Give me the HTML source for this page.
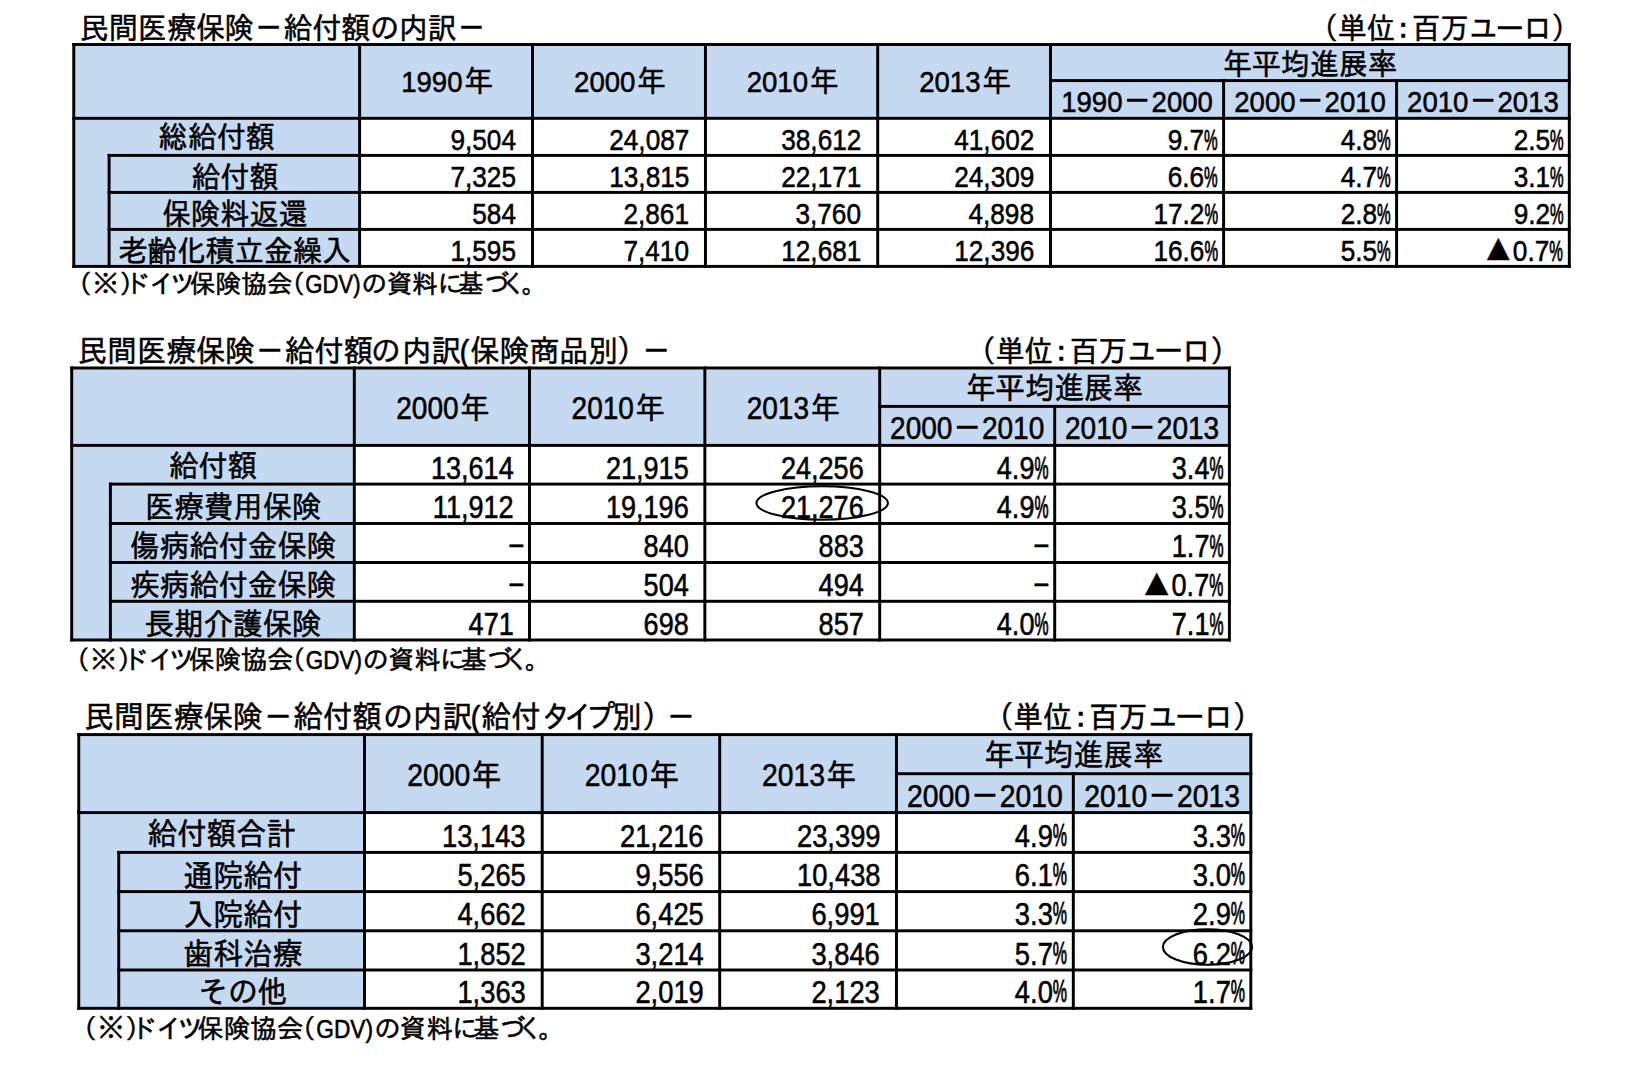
<!DOCTYPE html>
<html lang="ja"><head><meta charset="utf-8"><title>民間医療保険－給付額の内訳</title>
<style>
html,body{margin:0;padding:0;background:#fff}
#page{position:relative;width:1652px;height:1071px;overflow:hidden;background:#fff;color:#000;
 font-family:"Liberation Sans","IPAGothic",sans-serif}
.bg{position:absolute;background:#c5d9f1}
.ln{position:absolute;background:#000}
.t{position:absolute;height:40px;line-height:40px;white-space:nowrap;-webkit-text-stroke:0.5px #000;transform:scaleY(1.05);transform-origin:50% 75%}
.n{display:inline-block;line-height:1;font-size:0.95em;transform:scaleY(var(--ny));transform-origin:50% 84.65%}
.p{display:inline-block;font-size:0.585em;line-height:1;transform:scaleY(1.709);transform-origin:50% 84.65%}
.tri{display:inline-block;font-size:1.25em;line-height:1;transform:translateY(-1px) scale(1.1,0.97);transform-origin:50% 84.65%;margin-right:-0.07em;margin-left:0.05em}
.r{transform:scale(var(--rx),1.05);transform-origin:100% 75%}
.d{display:inline-block;transform:scaleX(1.9);transform-origin:100% 50%}
.y{margin-left:1.4px}
.note{transform:none}
.ov{position:absolute;left:0;top:0;pointer-events:none}
</style></head>
<body><div id="page">
<section style="--ny:1.0;--rx:0.95">
<svg class="ov" width="1652" height="1071" viewBox="0 0 1652 1071">
<rect x="73.75" y="44.50" width="1495.55" height="73.80" fill="#c5d9f1"/>
<rect x="73.75" y="118.30" width="285.85" height="148.10" fill="#c5d9f1"/>
<rect x="72.28" y="43.02" width="2.95" height="224.85" fill="#000"/>
<rect x="358.12" y="43.02" width="2.95" height="224.85" fill="#000"/>
<rect x="531.02" y="43.02" width="2.95" height="224.85" fill="#000"/>
<rect x="703.98" y="43.02" width="2.95" height="224.85" fill="#000"/>
<rect x="876.23" y="43.02" width="2.95" height="224.85" fill="#000"/>
<rect x="1049.03" y="43.02" width="2.95" height="224.85" fill="#000"/>
<rect x="1222.12" y="79.12" width="2.95" height="188.75" fill="#000"/>
<rect x="1395.12" y="79.12" width="2.95" height="188.75" fill="#000"/>
<rect x="1567.83" y="43.02" width="2.95" height="224.85" fill="#000"/>
<rect x="107.62" y="153.93" width="2.95" height="113.95" fill="#000"/>
<rect x="72.28" y="43.02" width="1498.50" height="2.95" fill="#000"/>
<rect x="72.28" y="116.83" width="1498.50" height="2.95" fill="#000"/>
<rect x="1049.03" y="79.12" width="521.75" height="2.95" fill="#000"/>
<rect x="72.28" y="264.92" width="1498.50" height="2.95" fill="#000"/>
<rect x="107.62" y="153.93" width="1463.15" height="2.95" fill="#000"/>
<rect x="107.62" y="190.93" width="1463.15" height="2.95" fill="#000"/>
<rect x="107.62" y="227.93" width="1463.15" height="2.95" fill="#000"/>
</svg>
<div class="t title" style="left:79.81px;top:9px;font-size:29.06px;">民間医療保険－給付額<span style="margin-left:-0.17px">の</span><span style="margin-left:-0.54px">内訳－</span></div>
<div class="t unit" style="left:1309.14px;top:9px;font-size:28.8px;">（<span style="margin-left:-0.12px">単</span><span style="margin-left:0.02px">位</span><span style="margin-left:-6.60px">：</span><span style="margin-left:-5.99px">百</span><span style="margin-left:-0.34px">万</span><span style="margin-left:0.02px">ユ</span><span style="margin-left:-2.38px">ー</span><span style="margin-left:-1.12px">ロ</span><span style="margin-left:-0.55px">）</span></div>
<div class="t note" style="left:66.07px;top:264px;font-size:25.7px;">（<span style="margin-left:0.92px">※</span><span style="margin-left:1.12px">）</span><span style="margin-left:-20.80px">ド</span><span style="margin-left:-0.57px">イ</span><span style="margin-left:-5.49px">ツ</span><span style="margin-left:-5.61px">保険協会</span><span style="margin-left:-13.38px">（</span><span style="margin-left:0.53px;font-size:0.860em;display:inline-block;line-height:1;transform:scaleY(1.163);transform-origin:50% 84.65%">GDV)</span><span style="margin-left:1.01px">の</span><span style="margin-left:-0.60px">資料</span><span style="margin-left:-0.68px">に</span><span style="margin-left:-4.99px">基</span><span style="margin-left:0.41px">づ</span><span style="margin-left:-9.06px">く</span><span style="margin-left:-4.95px">。</span></div>
<div class="t" style="left:47.05px;width:800px;text-align:center;top:62px;font-size:29.05px;"><span class="n">1990</span><span class="y">年</span></div>
<div class="t" style="left:219.98px;width:800px;text-align:center;top:62px;font-size:29.05px;"><span class="n">2000</span><span class="y">年</span></div>
<div class="t" style="left:392.58px;width:800px;text-align:center;top:62px;font-size:29.05px;"><span class="n">2010</span><span class="y">年</span></div>
<div class="t" style="left:565.10px;width:800px;text-align:center;top:62px;font-size:29.05px;"><span class="n">2013</span><span class="y">年</span></div>
<div class="t" style="left:909.90px;width:800px;text-align:center;top:45px;font-size:29.05px;">年平均進展率</div>
<div class="t" style="left:737.05px;width:800px;text-align:center;top:82px;font-size:29.05px;"><span class="n">1990</span>－<span class="n">2000</span></div>
<div class="t" style="left:910.10px;width:800px;text-align:center;top:82px;font-size:29.05px;"><span class="n">2000</span>－<span class="n">2010</span></div>
<div class="t" style="left:1082.95px;width:800px;text-align:center;top:82px;font-size:29.05px;"><span class="n">2010</span>－<span class="n">2013</span></div>
<div class="t" style="left:-183.32px;width:800px;text-align:center;top:118px;font-size:29.05px;">総給付額</div>
<div class="t r" style="right:1135.70px;top:120px;font-size:29.05px;"><span class="n">9,504</span></div>
<div class="t r" style="right:962.75px;top:120px;font-size:29.05px;"><span class="n">24,087</span></div>
<div class="t r" style="right:790.50px;top:120px;font-size:29.05px;"><span class="n">38,612</span></div>
<div class="t r" style="right:617.70px;top:120px;font-size:29.05px;"><span class="n">41,602</span></div>
<div class="t r" style="right:434.40px;top:120px;font-size:29.05px;"><span class="n">9.7<span class="p">%</span></span></div>
<div class="t r" style="right:261.40px;top:120px;font-size:29.05px;"><span class="n">4.8<span class="p">%</span></span></div>
<div class="t r" style="right:88.70px;top:120px;font-size:29.05px;"><span class="n">2.5<span class="p">%</span></span></div>
<div class="t" style="left:-165.15px;width:800px;text-align:center;top:158px;font-size:29.05px;">給付額</div>
<div class="t r" style="right:1135.70px;top:157px;font-size:29.05px;"><span class="n">7,325</span></div>
<div class="t r" style="right:962.75px;top:157px;font-size:29.05px;"><span class="n">13,815</span></div>
<div class="t r" style="right:790.50px;top:157px;font-size:29.05px;"><span class="n">22,171</span></div>
<div class="t r" style="right:617.70px;top:157px;font-size:29.05px;"><span class="n">24,309</span></div>
<div class="t r" style="right:434.40px;top:157px;font-size:29.05px;"><span class="n">6.6<span class="p">%</span></span></div>
<div class="t r" style="right:261.40px;top:157px;font-size:29.05px;"><span class="n">4.7<span class="p">%</span></span></div>
<div class="t r" style="right:88.70px;top:157px;font-size:29.05px;"><span class="n">3.1<span class="p">%</span></span></div>
<div class="t" style="left:-165.15px;width:800px;text-align:center;top:195px;font-size:29.05px;">保険料返還</div>
<div class="t r" style="right:1135.70px;top:194px;font-size:29.05px;"><span class="n">584</span></div>
<div class="t r" style="right:962.75px;top:194px;font-size:29.05px;"><span class="n">2,861</span></div>
<div class="t r" style="right:790.50px;top:194px;font-size:29.05px;"><span class="n">3,760</span></div>
<div class="t r" style="right:617.70px;top:194px;font-size:29.05px;"><span class="n">4,898</span></div>
<div class="t r" style="right:434.40px;top:194px;font-size:29.05px;"><span class="n">17.2<span class="p">%</span></span></div>
<div class="t r" style="right:261.40px;top:194px;font-size:29.05px;"><span class="n">2.8<span class="p">%</span></span></div>
<div class="t r" style="right:88.70px;top:194px;font-size:29.05px;"><span class="n">9.2<span class="p">%</span></span></div>
<div class="t" style="left:-165.15px;width:800px;text-align:center;top:232px;font-size:29.05px;">老齢化積立金繰入</div>
<div class="t r" style="right:1135.70px;top:231px;font-size:29.05px;"><span class="n">1,595</span></div>
<div class="t r" style="right:962.75px;top:231px;font-size:29.05px;"><span class="n">7,410</span></div>
<div class="t r" style="right:790.50px;top:231px;font-size:29.05px;"><span class="n">12,681</span></div>
<div class="t r" style="right:617.70px;top:231px;font-size:29.05px;"><span class="n">12,396</span></div>
<div class="t r" style="right:434.40px;top:231px;font-size:29.05px;"><span class="n">16.6<span class="p">%</span></span></div>
<div class="t r" style="right:261.40px;top:231px;font-size:29.05px;"><span class="n">5.5<span class="p">%</span></span></div>
<div class="t r" style="right:88.70px;top:231px;font-size:29.05px;"><span class="tri">▲</span><span class="n">0.7<span class="p">%</span></span></div>
</section>
<section style="--ny:1.045;--rx:0.966">
<svg class="ov" width="1652" height="1071" viewBox="0 0 1652 1071">
<rect x="71.70" y="368.00" width="1157.70" height="77.40" fill="#c5d9f1"/>
<rect x="71.70" y="445.40" width="282.60" height="194.60" fill="#c5d9f1"/>
<rect x="70.23" y="366.52" width="2.95" height="274.95" fill="#000"/>
<rect x="352.82" y="366.52" width="2.95" height="274.95" fill="#000"/>
<rect x="528.02" y="366.52" width="2.95" height="274.95" fill="#000"/>
<rect x="703.38" y="366.52" width="2.95" height="274.95" fill="#000"/>
<rect x="878.23" y="366.52" width="2.95" height="274.95" fill="#000"/>
<rect x="1053.23" y="404.92" width="2.95" height="236.55" fill="#000"/>
<rect x="1227.93" y="366.52" width="2.95" height="274.95" fill="#000"/>
<rect x="108.93" y="482.62" width="2.95" height="158.85" fill="#000"/>
<rect x="70.23" y="366.52" width="1160.65" height="2.95" fill="#000"/>
<rect x="70.23" y="443.92" width="1160.65" height="2.95" fill="#000"/>
<rect x="878.23" y="404.92" width="352.65" height="2.95" fill="#000"/>
<rect x="70.23" y="638.52" width="1160.65" height="2.95" fill="#000"/>
<rect x="108.93" y="482.62" width="1121.95" height="2.95" fill="#000"/>
<rect x="108.93" y="522.02" width="1121.95" height="2.95" fill="#000"/>
<rect x="108.93" y="561.02" width="1121.95" height="2.95" fill="#000"/>
<rect x="108.93" y="599.82" width="1121.95" height="2.95" fill="#000"/>
</svg>
<div class="t title" style="left:77.78px;top:331.5px;font-size:29.55px;">民間医療保険－給付額<span style="margin-left:-2.19px">の</span><span style="margin-left:1.36px">内訳</span><span style="margin-left:-1.45px">(</span><span style="margin-left:0.88px">保険商品別</span><span style="margin-left:-1.21px">）</span><span style="margin-left:-4.81px">－</span></div>
<div class="t unit" style="left:966.65px;top:332px;font-size:28.95px;">（<span style="margin-left:-0.11px">単</span><span style="margin-left:0.04px">位</span><span style="margin-left:-6.61px">：</span><span style="margin-left:-6.01px">百</span><span style="margin-left:-0.32px">万</span><span style="margin-left:0.05px">ユ</span><span style="margin-left:-2.38px">ー</span><span style="margin-left:-1.10px">ロ</span><span style="margin-left:-0.53px">）</span></div>
<div class="t note" style="left:63.50px;top:640px;font-size:26.1px;">（<span style="margin-left:0.89px">※</span><span style="margin-left:1.04px">）</span><span style="margin-left:-21.16px">ド</span><span style="margin-left:-0.64px">イ</span><span style="margin-left:-5.65px">ツ</span><span style="margin-left:-5.76px">保険協会</span><span style="margin-left:-13.96px">（</span><span style="margin-left:0.50px;font-size:0.860em;display:inline-block;line-height:1;transform:scaleY(1.163);transform-origin:50% 84.65%">GDV)</span><span style="margin-left:0.82px">の</span><span style="margin-left:-0.70px">資料</span><span style="margin-left:-0.88px">に</span><span style="margin-left:-5.14px">基</span><span style="margin-left:0.32px">づ</span><span style="margin-left:-9.27px">く</span><span style="margin-left:-5.09px">。</span></div>
<div class="t" style="left:42.90px;width:800px;text-align:center;top:388.5px;font-size:29.5px;"><span class="n">2000</span><span class="y">年</span></div>
<div class="t" style="left:218.17px;width:800px;text-align:center;top:388.5px;font-size:29.5px;"><span class="n">2010</span><span class="y">年</span></div>
<div class="t" style="left:393.28px;width:800px;text-align:center;top:388.5px;font-size:29.5px;"><span class="n">2013</span><span class="y">年</span></div>
<div class="t" style="left:654.55px;width:800px;text-align:center;top:368.5px;font-size:29.5px;">年平均進展率</div>
<div class="t" style="left:567.20px;width:800px;text-align:center;top:408.5px;font-size:29.5px;"><span class="n">2000</span>－<span class="n">2010</span></div>
<div class="t" style="left:742.05px;width:800px;text-align:center;top:408.5px;font-size:29.5px;"><span class="n">2010</span>－<span class="n">2013</span></div>
<div class="t" style="left:-187.00px;width:800px;text-align:center;top:446.5px;font-size:29.5px;">給付額</div>
<div class="t r" style="right:1138.70px;top:448.5px;font-size:29.5px;"><span class="n">13,614</span></div>
<div class="t r" style="right:963.35px;top:448.5px;font-size:29.5px;"><span class="n">21,915</span></div>
<div class="t r" style="right:788.50px;top:448.5px;font-size:29.5px;"><span class="n">24,256</span></div>
<div class="t r" style="right:603.30px;top:448.5px;font-size:29.5px;"><span class="n">4.9<span class="p">%</span></span></div>
<div class="t r" style="right:428.60px;top:448.5px;font-size:29.5px;"><span class="n">3.4<span class="p">%</span></span></div>
<div class="t" style="left:-166.65px;width:800px;text-align:center;top:487.5px;font-size:29.5px;">医療費用保険</div>
<div class="t r" style="right:1138.70px;top:487.5px;font-size:29.5px;"><span class="n">11,912</span></div>
<div class="t r" style="right:963.35px;top:487.5px;font-size:29.5px;"><span class="n">19,196</span></div>
<div class="t r" style="right:788.50px;top:487.5px;font-size:29.5px;"><span class="n">21,276</span></div>
<div class="t r" style="right:603.30px;top:487.5px;font-size:29.5px;"><span class="n">4.9<span class="p">%</span></span></div>
<div class="t r" style="right:428.60px;top:487.5px;font-size:29.5px;"><span class="n">3.5<span class="p">%</span></span></div>
<div class="t" style="left:-166.65px;width:800px;text-align:center;top:526.5px;font-size:29.5px;">傷病給付金保険</div>
<div class="t" style="right:1127.00px;top:523.5px;font-size:29.5px;"><span class="n d">-</span></div>
<div class="t r" style="right:963.35px;top:526.5px;font-size:29.5px;"><span class="n">840</span></div>
<div class="t r" style="right:788.50px;top:526.5px;font-size:29.5px;"><span class="n">883</span></div>
<div class="t" style="right:601.80px;top:523.5px;font-size:29.5px;"><span class="n d">-</span></div>
<div class="t r" style="right:428.60px;top:526.5px;font-size:29.5px;"><span class="n">1.7<span class="p">%</span></span></div>
<div class="t" style="left:-166.65px;width:800px;text-align:center;top:565.5px;font-size:29.5px;">疾病給付金保険</div>
<div class="t" style="right:1127.00px;top:562.5px;font-size:29.5px;"><span class="n d">-</span></div>
<div class="t r" style="right:963.35px;top:565.5px;font-size:29.5px;"><span class="n">504</span></div>
<div class="t r" style="right:788.50px;top:565.5px;font-size:29.5px;"><span class="n">494</span></div>
<div class="t" style="right:601.80px;top:562.5px;font-size:29.5px;"><span class="n d">-</span></div>
<div class="t r" style="right:428.60px;top:565.5px;font-size:29.5px;"><span class="tri">▲</span><span class="n">0.7<span class="p">%</span></span></div>
<div class="t" style="left:-166.65px;width:800px;text-align:center;top:604.5px;font-size:29.5px;">長期介護保険</div>
<div class="t r" style="right:1138.70px;top:604.5px;font-size:29.5px;"><span class="n">471</span></div>
<div class="t r" style="right:963.35px;top:604.5px;font-size:29.5px;"><span class="n">698</span></div>
<div class="t r" style="right:788.50px;top:604.5px;font-size:29.5px;"><span class="n">857</span></div>
<div class="t r" style="right:603.30px;top:604.5px;font-size:29.5px;"><span class="n">4.0<span class="p">%</span></span></div>
<div class="t r" style="right:428.60px;top:604.5px;font-size:29.5px;"><span class="n">7.1<span class="p">%</span></span></div>
</section>
<section style="--ny:1.04;--rx:0.966">
<svg class="ov" width="1652" height="1071" viewBox="0 0 1652 1071">
<rect x="78.75" y="734.60" width="1172.05" height="78.00" fill="#c5d9f1"/>
<rect x="78.75" y="812.60" width="285.75" height="195.70" fill="#c5d9f1"/>
<rect x="77.28" y="733.12" width="2.95" height="276.65" fill="#000"/>
<rect x="363.02" y="733.12" width="2.95" height="276.65" fill="#000"/>
<rect x="540.73" y="733.12" width="2.95" height="276.65" fill="#000"/>
<rect x="718.23" y="733.12" width="2.95" height="276.65" fill="#000"/>
<rect x="894.98" y="733.12" width="2.95" height="276.65" fill="#000"/>
<rect x="1071.83" y="772.23" width="2.95" height="237.55" fill="#000"/>
<rect x="1249.33" y="733.12" width="2.95" height="276.65" fill="#000"/>
<rect x="117.28" y="850.92" width="2.95" height="158.85" fill="#000"/>
<rect x="77.28" y="733.12" width="1175.00" height="2.95" fill="#000"/>
<rect x="77.28" y="811.12" width="1175.00" height="2.95" fill="#000"/>
<rect x="894.98" y="772.23" width="357.30" height="2.95" fill="#000"/>
<rect x="77.28" y="1006.82" width="1175.00" height="2.95" fill="#000"/>
<rect x="117.28" y="850.92" width="1135.00" height="2.95" fill="#000"/>
<rect x="117.28" y="890.12" width="1135.00" height="2.95" fill="#000"/>
<rect x="117.28" y="929.32" width="1135.00" height="2.95" fill="#000"/>
<rect x="117.28" y="968.52" width="1135.00" height="2.95" fill="#000"/>
</svg>
<div class="t title" style="left:84.26px;top:697.5px;font-size:29.82px;">民間医療保険－給付額<span style="margin-left:0.61px">の</span><span style="margin-left:-0.12px">内訳</span><span style="margin-left:-1.87px">(</span><span style="margin-left:0.69px">給付</span><span style="margin-left:0.63px">タ</span><span style="margin-left:-7.37px">イ</span><span style="margin-left:-8.19px">プ</span><span style="margin-left:-3.06px">別</span>）<span style="margin-left:-5.91px">－</span></div>
<div class="t unit" style="left:983.93px;top:697.5px;font-size:29.55px;">（<span style="margin-left:-0.12px">単</span><span style="margin-left:0.02px">位</span><span style="margin-left:-6.78px">：</span><span style="margin-left:-6.14px">百</span><span style="margin-left:-0.35px">万</span><span style="margin-left:0.02px">ユ</span><span style="margin-left:-2.45px">ー</span><span style="margin-left:-1.15px">ロ</span><span style="margin-left:-0.56px">）</span></div>
<div class="t note" style="left:70.51px;top:1009px;font-size:26.4px;">（<span style="margin-left:0.94px">※</span><span style="margin-left:1.14px">）</span><span style="margin-left:-21.37px">ド</span><span style="margin-left:-0.59px">イ</span><span style="margin-left:-5.65px">ツ</span><span style="margin-left:-5.77px">保険協会</span><span style="margin-left:-13.80px">（</span><span style="margin-left:0.54px;font-size:0.860em;display:inline-block;line-height:1;transform:scaleY(1.163);transform-origin:50% 84.65%">GDV)</span><span style="margin-left:1.00px">の</span><span style="margin-left:-0.63px">資料</span><span style="margin-left:-0.73px">に</span><span style="margin-left:-5.14px">基</span><span style="margin-left:0.40px">づ</span><span style="margin-left:-9.31px">く</span><span style="margin-left:-5.10px">。</span></div>
<div class="t" style="left:54.35px;width:800px;text-align:center;top:755.5px;font-size:29.8px;"><span class="n">2000</span><span class="y">年</span></div>
<div class="t" style="left:231.95px;width:800px;text-align:center;top:755.5px;font-size:29.8px;"><span class="n">2010</span><span class="y">年</span></div>
<div class="t" style="left:409.08px;width:800px;text-align:center;top:755.5px;font-size:29.8px;"><span class="n">2013</span><span class="y">年</span></div>
<div class="t" style="left:673.62px;width:800px;text-align:center;top:735.5px;font-size:29.8px;">年平均進展率</div>
<div class="t" style="left:584.88px;width:800px;text-align:center;top:776.5px;font-size:29.8px;"><span class="n">2000</span>－<span class="n">2010</span></div>
<div class="t" style="left:762.05px;width:800px;text-align:center;top:776.5px;font-size:29.8px;"><span class="n">2010</span>－<span class="n">2013</span></div>
<div class="t" style="left:-178.38px;width:800px;text-align:center;top:814.5px;font-size:29.8px;">給付額合計</div>
<div class="t r" style="right:1126.00px;top:816.5px;font-size:29.8px;"><span class="n">13,143</span></div>
<div class="t r" style="right:948.50px;top:816.5px;font-size:29.8px;"><span class="n">21,216</span></div>
<div class="t r" style="right:771.75px;top:816.5px;font-size:29.8px;"><span class="n">23,399</span></div>
<div class="t r" style="right:584.70px;top:816.5px;font-size:29.8px;"><span class="n">4.9<span class="p">%</span></span></div>
<div class="t r" style="right:407.20px;top:816.5px;font-size:29.8px;"><span class="n">3.3<span class="p">%</span></span></div>
<div class="t" style="left:-157.07px;width:800px;text-align:center;top:856.5px;font-size:29.8px;">通院給付</div>
<div class="t r" style="right:1126.00px;top:855.5px;font-size:29.8px;"><span class="n">5,265</span></div>
<div class="t r" style="right:948.50px;top:855.5px;font-size:29.8px;"><span class="n">9,556</span></div>
<div class="t r" style="right:771.75px;top:855.5px;font-size:29.8px;"><span class="n">10,438</span></div>
<div class="t r" style="right:584.70px;top:855.5px;font-size:29.8px;"><span class="n">6.1<span class="p">%</span></span></div>
<div class="t r" style="right:407.20px;top:855.5px;font-size:29.8px;"><span class="n">3.0<span class="p">%</span></span></div>
<div class="t" style="left:-157.07px;width:800px;text-align:center;top:895.5px;font-size:29.8px;">入院給付</div>
<div class="t r" style="right:1126.00px;top:894.5px;font-size:29.8px;"><span class="n">4,662</span></div>
<div class="t r" style="right:948.50px;top:894.5px;font-size:29.8px;"><span class="n">6,425</span></div>
<div class="t r" style="right:771.75px;top:894.5px;font-size:29.8px;"><span class="n">6,991</span></div>
<div class="t r" style="right:584.70px;top:894.5px;font-size:29.8px;"><span class="n">3.3<span class="p">%</span></span></div>
<div class="t r" style="right:407.20px;top:894.5px;font-size:29.8px;"><span class="n">2.9<span class="p">%</span></span></div>
<div class="t" style="left:-157.07px;width:800px;text-align:center;top:934.5px;font-size:29.8px;">歯科治療</div>
<div class="t r" style="right:1126.00px;top:934.5px;font-size:29.8px;"><span class="n">1,852</span></div>
<div class="t r" style="right:948.50px;top:934.5px;font-size:29.8px;"><span class="n">3,214</span></div>
<div class="t r" style="right:771.75px;top:934.5px;font-size:29.8px;"><span class="n">3,846</span></div>
<div class="t r" style="right:584.70px;top:934.5px;font-size:29.8px;"><span class="n">5.7<span class="p">%</span></span></div>
<div class="t r" style="right:407.20px;top:934.5px;font-size:29.8px;"><span class="n">6.2<span class="p">%</span></span></div>
<div class="t" style="left:-157.07px;width:800px;text-align:center;top:972.5px;font-size:29.8px;">その他</div>
<div class="t r" style="right:1126.00px;top:972.5px;font-size:29.8px;"><span class="n">1,363</span></div>
<div class="t r" style="right:948.50px;top:972.5px;font-size:29.8px;"><span class="n">2,019</span></div>
<div class="t r" style="right:771.75px;top:972.5px;font-size:29.8px;"><span class="n">2,123</span></div>
<div class="t r" style="right:584.70px;top:972.5px;font-size:29.8px;"><span class="n">4.0<span class="p">%</span></span></div>
<div class="t r" style="right:407.20px;top:972.5px;font-size:29.8px;"><span class="n">1.7<span class="p">%</span></span></div>
</section>
<svg class="ov" width="1652" height="1071" viewBox="0 0 1652 1071">
<ellipse cx="822.2" cy="503" rx="65.7" ry="16.75" fill="none" stroke="#000" stroke-width="2.1"/>
<ellipse cx="1207.5" cy="947" rx="44.6" ry="17.8" fill="none" stroke="#000" stroke-width="2.1"/>
</svg>
</div></body></html>
